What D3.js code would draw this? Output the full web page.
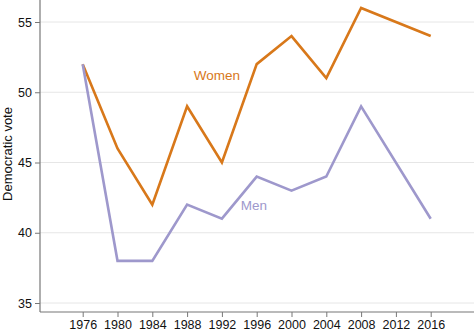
<!DOCTYPE html>
<html>
<head>
<meta charset="utf-8">
<script src="https://cdn.jsdelivr.net/npm/d3@7"></script>
<style>
  html, body { margin: 0; padding: 0; background: #fff; }
  svg { display: block; font-family: "Liberation Sans", Arial, Helvetica, sans-serif; }
</style>
</head>
<body>
<svg id="chart" width="474" height="333"></svg>
<script>
// Democratic share of the two-party vote by gender, presidential elections
const years = [1976, 1980, 1984, 1988, 1992, 1996, 2000, 2004, 2008, 2016];
const women = [52, 46, 42, 49, 45, 52, 54, 51, 56, 54];
const men   = [52, 38, 38, 42, 41, 44, 43, 44, 49, 41];
const xTicks = [1976, 1980, 1984, 1988, 1992, 1996, 2000, 2004, 2008, 2012, 2016];
const yTicks = [35, 40, 45, 50, 55];

const W = 474, H = 333;
const left = 40, bottom = 312;

const svg = d3.select("#chart");

const x = d3.scaleLinear().domain([1976, 2016]).range([82.7, 430.7]);
const y = d3.scaleLinear().domain([35, 55]).range([303, 22]);

// horizontal grid
svg.append("g")
  .selectAll("line")
  .data(yTicks)
  .join("line")
  .attr("x1", left).attr("x2", W)
  .attr("y1", d => y(d)).attr("y2", d => y(d))
  .attr("stroke", "#e6e6e6").attr("stroke-width", 1);

// y axis
const yAxis = svg.append("g")
  .attr("transform", `translate(${left},0)`)
  .call(d3.axisLeft(y).tickValues(yTicks).tickSize(5).tickPadding(3));
yAxis.select(".domain").attr("d", `M0,0V${bottom}`);

// x axis
const xAxis = svg.append("g")
  .attr("transform", `translate(0,${bottom})`)
  .call(d3.axisBottom(x).tickValues(xTicks).tickFormat(d3.format("d")).tickSize(5).tickPadding(3));
xAxis.select(".domain").attr("d", `M${left},0H${W}`);

svg.selectAll(".tick text").attr("font-size", 12.5).attr("fill", "#111")
  .attr("font-family", "'Liberation Sans', Arial, sans-serif");
svg.selectAll(".tick line").attr("stroke", "#777");
svg.selectAll(".domain").attr("stroke", "#777").attr("stroke-width", 1.2);

// axis title
svg.append("text")
  .attr("transform", `translate(12,154) rotate(-90)`)
  .attr("text-anchor", "middle")
  .attr("font-size", 13)
  .attr("fill", "#111")
  .text("Democratic vote");

const line = d3.line().x(d => x(d[0])).y(d => y(d[1]));

const series = [
  { name: "Women", values: women, color: "#d8781a", lx: 217, ly: 75 },
  { name: "Men", values: men, color: "#9e98cc", lx: 254, ly: 205 }
];

series.forEach(s => {
  svg.append("path")
    .datum(years.map((yr, i) => [yr, s.values[i]]))
    .attr("d", line)
    .attr("fill", "none")
    .attr("stroke", s.color)
    .attr("stroke-width", 2.6)
    .attr("stroke-linejoin", "miter");
  svg.append("text")
    .attr("x", s.lx).attr("y", s.ly)
    .attr("dy", "0.35em")
    .attr("text-anchor", "middle")
    .attr("font-size", 13.5)
    .attr("fill", s.color)
    .text(s.name);
});
</script>
</body>
</html>
